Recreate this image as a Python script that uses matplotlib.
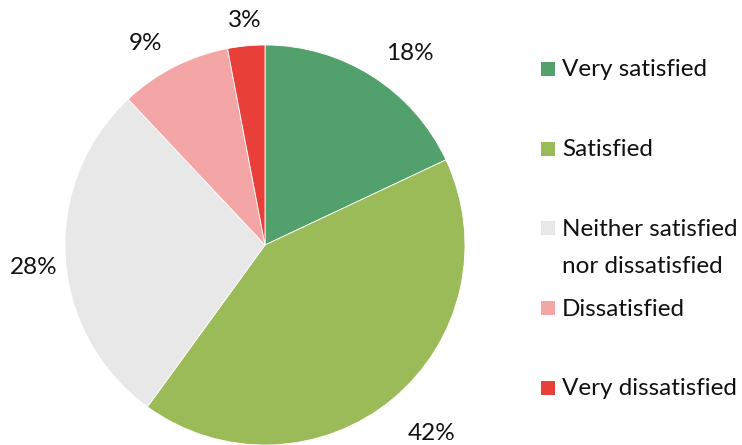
import matplotlib
matplotlib.use("Agg")
import matplotlib.pyplot as plt
from matplotlib.patches import Rectangle
import numpy as np

categories = ["Very satisfied", "Satisfied", "Neither satisfied\nnor dissatisfied",
              "Dissatisfied", "Very dissatisfied"]
values = [18, 42, 28, 9, 3]
colors = ["#52A06B", "#9BBB59", "#E8E8E8", "#F4A6A6", "#E93F3B"]

W, H = 742, 445
plt.rcParams['font.family'] = ['Lato', 'DejaVu Sans']
fig = plt.figure(figsize=(W / 100, H / 100), dpi=100)
ax = fig.add_axes([0, 0, 1, 1])

cx, cy, r = 265, H - 245, 200
wedges, _ = ax.pie(values, colors=colors, startangle=90, counterclock=False,
                   center=(cx, cy), radius=r, frame=True,
                   wedgeprops=dict(linewidth=0.6, edgecolor='white'))
ax.set_xlim(0, W)
ax.set_ylim(0, H)
ax.set_aspect('equal')
ax.axis('off')

# data labels placed "outside end": box corner offset from a ring at radius R
renderer = fig.canvas.get_renderer()
R = 216
nudges = [(5, 0), (5, -13), (8, -7), (-5, 0), (5, 0)]  # small layout nudges (px)
for w, v, (nx, ny) in zip(wedges, values, nudges):
    ang = np.deg2rad((w.theta1 + w.theta2) / 2)
    dx, dy = np.cos(ang), np.sin(ang)
    t = ax.text(0, 0, f"{v}%", ha='center', va='center', fontsize=17.5,
                color='#111111')
    bb = t.get_window_extent(renderer)
    hw, hh = bb.width / 2, 9
    t.set_position((cx + R * dx + hw * np.sign(dx) * min(1, abs(dx) * 3) + nx,
                    cy + R * dy + hh * np.sign(dy) * min(1, abs(dy) * 3) + ny))

# legend
lx, ly0, step = 541, 69, 79.7
sq = 14
for i, (lab, col) in enumerate(zip(categories, colors)):
    y = H - (ly0 + i * step)
    ax.add_patch(Rectangle((lx, y - sq / 2), sq, sq, facecolor=col, edgecolor='none'))
    if '\n' in lab:
        ax.text(lx + 21, y + 9, lab, ha='left', va='top', fontsize=17.5,
                color='#111111', linespacing=1.9)
    else:
        ax.text(lx + 21, y + 1, lab, ha='left', va='center_baseline',
                fontsize=17.5, color='#111111')

fig.savefig("out.png", dpi=100)
